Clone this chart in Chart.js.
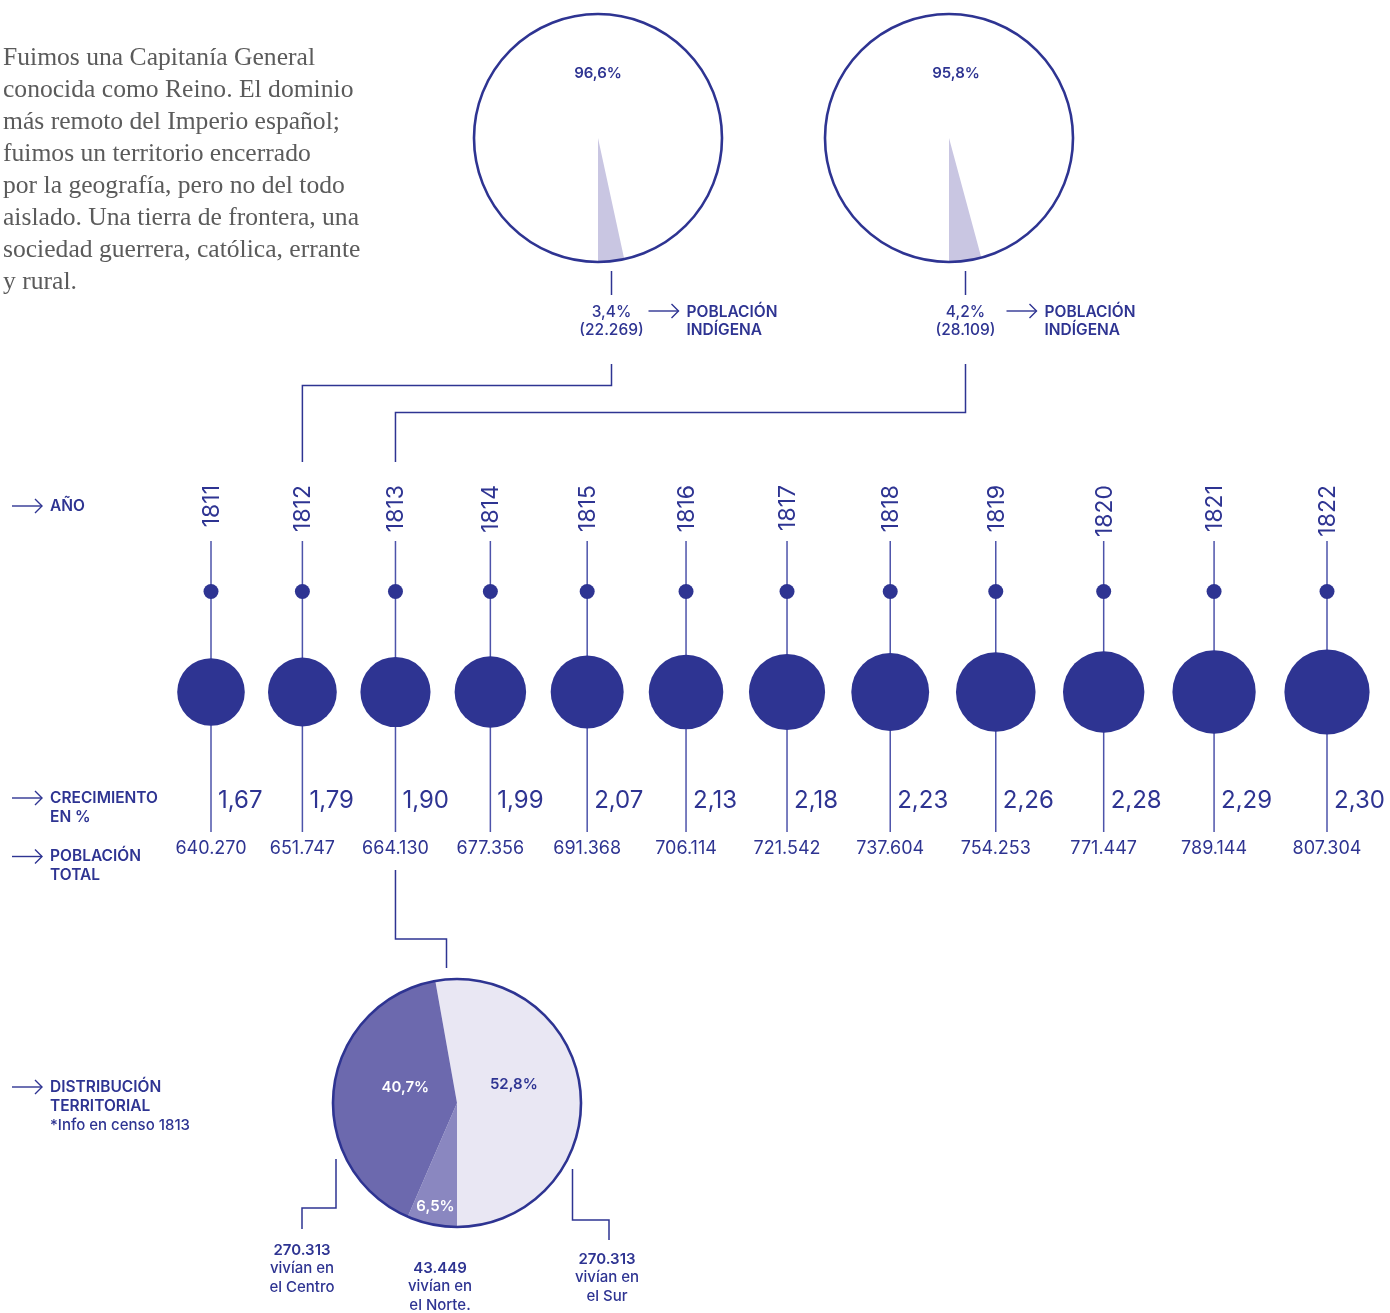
<!DOCTYPE html>
<html lang="es">
<head>
<meta charset="utf-8">
<title>Población 1811–1822</title>
<script src="https://cdn.jsdelivr.net/npm/chart.js@4.4.1/dist/chart.umd.min.js"></script>
<style>
  html, body { margin:0; padding:0; background:#ffffff; }
  #stage { position:relative; width:1390px; height:1313px; overflow:hidden; }
  #stage canvas { position:absolute; }
  #intro { position:absolute; left:3px; top:41px; margin:0; font-family:"Liberation Serif","DejaVu Serif",serif;
           font-size:25.6px; line-height:32px; color:#5b5b5b; white-space:nowrap; }
</style>
</head>
<body>
<div id="stage">
  <canvas id="timeline" width="1390" height="1313" style="left:0;top:0"></canvas>
  <canvas id="pie1812" width="400" height="345" style="left:468px;top:8px"></canvas>
  <canvas id="pie1813" width="400" height="345" style="left:819px;top:8px"></canvas>
  <canvas id="pieRegions" width="260" height="260" style="left:327px;top:973px"></canvas>
  <p id="intro">Fuimos una Capitanía General<br>conocida como Reino. El dominio<br>más remoto del Imperio español;<br>fuimos un territorio encerrado<br>por la geografía, pero no del todo<br>aislado. Una tierra de frontera, una<br>sociedad guerrera, católica, errante<br>y rural.</p>
</div>
<script>
// ---------------- DATA ----------------
const years = [1811, 1812, 1813, 1814, 1815, 1816, 1817, 1818, 1819, 1820, 1821, 1822];
const growthPct = [1.67, 1.79, 1.90, 1.99, 2.07, 2.13, 2.18, 2.23, 2.26, 2.28, 2.29, 2.30];
const totalPopulation = [640270, 651747, 664130, 677356, 691368, 706114, 721542, 737604, 754253, 771447, 789144, 807304];

const indigenousYears = [1812, 1813];
const nonIndigenousPct = [96.6, 95.8];
const indigenousPct = [3.4, 4.2];
const indigenousCount = [22269, 28109];

const regionNames = ['Sur', 'Norte', 'Centro'];
const regionPct = [52.8, 6.5, 40.7];
const regionCount = [270313, 43449, 270313];
const regionCaption = ['el Sur', 'el Norte.', 'el Centro'];

const rowLabels = ['AÑO', 'CRECIMIENTO\nEN %', 'POBLACIÓN\nTOTAL', 'DISTRIBUCIÓN\nTERRITORIAL\n*Info en censo 1813'];

// ---------------- STYLE ----------------
const INK = '#2e3492';
const STEM = '#4d53aa';
const FONT = 'Inter, "Open Sans", Roboto, sans-serif';
const POP_PER_RADIUS_PX = 18950;
const fmtInt = n => String(n).replace(/\B(?=(\d{3})+(?!\d))/g, '.');
const fmtDec = (v, d) => v.toFixed(d).replace('.', ',');

Chart.defaults.font.family = FONT;
const stubPage = {};

function line(ctx, pts) {
  ctx.beginPath();
  ctx.moveTo(pts[0][0], pts[0][1]);
  for (let i = 1; i < pts.length; i++) ctx.lineTo(pts[i][0], pts[i][1]);
  ctx.stroke();
}
function arrow(ctx, x0, x1, y) {
  ctx.save();
  ctx.strokeStyle = INK; ctx.lineWidth = 1.4; ctx.lineJoin = 'miter';
  line(ctx, [[x0, y], [x1, y]]);
  line(ctx, [[x1 - 7, y - 7], [x1, y], [x1 - 7, y + 7]]);
  ctx.restore();
}
function outline(ctx, el) {
  ctx.beginPath();
  ctx.arc(el.x, el.y, el.outerRadius, 0, Math.PI * 2);
  ctx.lineWidth = 2.6; ctx.strokeStyle = INK; ctx.stroke();
}

// ---------------- INDIGENOUS PIES ----------------
const indigenousDecor = {
  id: 'indigenousDecor',
  afterDatasetsDraw(chart) {
    const ctx = chart.ctx;
    const i = chart.options.plugins.indigenousDecor.index;
    const arcs = chart.getDatasetMeta(0).data;
    const cx = arcs[0].x, cy = arcs[0].y, R = arcs[0].outerRadius;
    ctx.save();
    outline(ctx, arcs[0]);
    ctx.fillStyle = INK; ctx.textAlign = 'center'; ctx.textBaseline = 'middle';
    ctx.font = '600 15px ' + FONT;
    ctx.fillText(fmtDec(nonIndigenousPct[i], 1) + '%', cx + (i === 1 ? 7 : 0), cy - 65);
    const mid = (arcs[1].startAngle + arcs[1].endAngle) / 2;
    const sx = Math.round(cx + Math.cos(mid) * R) + 0.5;
    ctx.strokeStyle = INK; ctx.lineWidth = 1.5;
    line(ctx, [[sx, cy + 133], [sx, cy + 157]]);
    ctx.font = '500 15.5px ' + FONT;
    ctx.fillText(fmtDec(indigenousPct[i], 1) + '%', sx, cy + 174);
    ctx.fillText('(' + fmtInt(indigenousCount[i]) + ')', sx, cy + 192);
    const gap = i === 1 ? 4 : 0;
    arrow(ctx, sx + 37 + gap, sx + 67 + gap, cy + 173);
    ctx.textAlign = 'left';
    ctx.font = '600 15.5px ' + FONT;
    ctx.fillText('POBLACIÓN', sx + 75 + gap, cy + 174);
    ctx.fillText('INDÍGENA', sx + 75 + gap, cy + 192);
    ctx.restore();
    stubPage[indigenousYears[i]] = chart.canvas.offsetLeft + sx;
  }
};

function makeIndigenousPie(id, i) {
  return new Chart(document.getElementById(id), {
    type: 'pie',
    data: {
      labels: ['No indígena', 'Indígena'],
      datasets: [{ data: [nonIndigenousPct[i], indigenousPct[i]],
                   backgroundColor: ['#ffffff', '#c9c6e2'], borderWidth: 0 }]
    },
    options: {
      responsive: false, animation: false, events: [],
      rotation: 180, radius: 124,
      layout: { autoPadding: false, padding: { left: 0, top: 0, right: 140, bottom: 85 } },
      plugins: { legend: { display: false }, tooltip: { enabled: false }, indigenousDecor: { index: i } }
    },
    plugins: [indigenousDecor]
  });
}
makeIndigenousPie('pie1812', 0);
makeIndigenousPie('pie1813', 1);

// ---------------- REGION PIE (1813) ----------------
const regionLabelRadius = [0.46, 0.855, 0.42];
const regionLabelDy = [-14, 0, -9];
const regionLabelColor = [INK, '#ffffff', '#ffffff'];
const regionDecor = {
  id: 'regionDecor',
  afterDatasetsDraw(chart) {
    const ctx = chart.ctx;
    const arcs = chart.getDatasetMeta(0).data;
    ctx.save();
    outline(ctx, arcs[0]);
    ctx.textAlign = 'center'; ctx.textBaseline = 'middle';
    ctx.font = '600 15px ' + FONT;
    arcs.forEach((a, k) => {
      const mid = (a.startAngle + a.endAngle) / 2;
      const r = a.outerRadius * regionLabelRadius[k];
      ctx.fillStyle = regionLabelColor[k];
      ctx.fillText(fmtDec(regionPct[k], 1) + '%', a.x + Math.cos(mid) * r, a.y + Math.sin(mid) * r + regionLabelDy[k]);
    });
    ctx.restore();
  }
};
new Chart(document.getElementById('pieRegions'), {
  type: 'pie',
  data: {
    labels: regionNames,
    datasets: [{ data: regionPct, backgroundColor: ['#e9e7f3', '#8a87c0', '#6c69ae'], borderWidth: 0 }]
  },
  options: {
    responsive: false, animation: false, events: [],
    rotation: 180 - regionPct[0] * 3.6, radius: 124,
    layout: { autoPadding: false },
    plugins: { legend: { display: false }, tooltip: { enabled: false } }
  },
  plugins: [regionDecor]
});

// ---------------- TIMELINE (bubble chart) ----------------
// bubbles are packed along the axis in proportion to their size
const layoutX = [0];
for (let i = 1; i < totalPopulation.length; i++) layoutX.push(layoutX[i - 1] + (totalPopulation[i - 1] + totalPopulation[i]) / 2);
const span = layoutX[layoutX.length - 1];
const pxPerUnit = (1327 - 211) / span;
const X_MIN = -211 / pxPerUnit, X_MAX = X_MIN + 1390 / pxPerUnit;
const ROW_DOT = 0, ROW_BUBBLE = 1;
const Y_MIN = -591.5 / 100.5, Y_MAX = Y_MIN + 1313 / 100.5;

const timelineDecor = {
  id: 'timelineDecor',
  beforeDatasetsDraw(chart) {
    const ctx = chart.ctx;
    ctx.save();
    ctx.strokeStyle = STEM; ctx.lineWidth = 1.5;
    chart.getDatasetMeta(1).data.forEach(el => line(ctx, [[el.x, 541], [el.x, 832]]));
    ctx.restore();
  },
  afterDatasetsDraw(chart) {
    const ctx = chart.ctx;
    const els = chart.getDatasetMeta(1).data;
    ctx.save();
    ctx.fillStyle = INK;
    els.forEach((el, i) => {
      // year
      ctx.save();
      ctx.translate(el.x, 485);
      ctx.rotate(-Math.PI / 2);
      ctx.textAlign = 'right'; ctx.textBaseline = 'middle';
      ctx.font = '400 23px ' + FONT;
      ctx.fillText(String(years[i]), 0, 1);
      ctx.restore();
      // growth
      ctx.textAlign = 'left'; ctx.textBaseline = 'alphabetic';
      ctx.font = '400 24px ' + FONT;
      ctx.fillText(fmtDec(growthPct[i], 2), el.x + 7, 808);
      // population
      ctx.textAlign = 'center'; ctx.textBaseline = 'middle';
      ctx.font = '400 18px ' + FONT;
      ctx.fillText(fmtInt(totalPopulation[i]), el.x, 849);
    });

    // row labels with arrows
    const rowY = [506, 798, 856.5, 1087];
    rowLabels.forEach((txt, r) => {
      arrow(ctx, 12, 42, rowY[r]);
      ctx.fillStyle = INK; ctx.textAlign = 'left'; ctx.textBaseline = 'middle';
      txt.split('\n').forEach((s, j) => {
        ctx.font = (s.startsWith('*') ? '500 15px ' : '600 15.5px ') + FONT;
        ctx.fillText(s, 50, rowY[r] + j * 19);
      });
    });

    // connectors
    const x1812 = els[years.indexOf(1812)].x, x1813 = els[years.indexOf(1813)].x;
    ctx.strokeStyle = INK; ctx.lineWidth = 1.5; ctx.lineJoin = 'miter';
    const s12 = stubPage[1812] || 613, s13 = stubPage[1813] || 963;
    line(ctx, [[s12, 364], [s12, 385.5], [x1812, 385.5], [x1812, 462]]);
    line(ctx, [[s13, 364], [s13, 412.5], [x1813, 412.5], [x1813, 462]]);
    line(ctx, [[x1813, 870], [x1813, 939], [446.5, 939], [446.5, 968]]);
    line(ctx, [[336, 1159], [336, 1208], [302, 1208], [302, 1229]]);
    line(ctx, [[572.5, 1169], [572.5, 1220], [609, 1220], [609, 1240]]);

    // region callouts
    const callX = [607, 440, 302], callY = [1259, 1268, 1250];
    ctx.fillStyle = INK; ctx.textAlign = 'center'; ctx.textBaseline = 'middle';
    regionNames.forEach((n, k) => {
      ctx.font = '600 15px ' + FONT;
      ctx.fillText(fmtInt(regionCount[k]), callX[k], callY[k]);
      ctx.font = '500 15px ' + FONT;
      ctx.fillText('vivían en', callX[k], callY[k] + 18.5);
      ctx.fillText(regionCaption[k], callX[k], callY[k] + 37);
    });
    ctx.restore();
  }
};

new Chart(document.getElementById('timeline'), {
  type: 'bubble',
  data: {
    datasets: [
      { label: 'Año', data: years.map((y, i) => ({ x: layoutX[i], y: ROW_DOT })),
        backgroundColor: INK, borderWidth: 0, radius: 7.5, hoverRadius: 0 },
      { label: 'Población total', data: years.map((y, i) => ({ x: layoutX[i], y: ROW_BUBBLE })),
        backgroundColor: INK, borderWidth: 0, hoverRadius: 0,
        radius: ctx => totalPopulation[ctx.dataIndex] / POP_PER_RADIUS_PX }
    ]
  },
  options: {
    responsive: false, animation: false, events: [],
    layout: { autoPadding: false, padding: 0 },
    plugins: { legend: { display: false }, tooltip: { enabled: false } },
    scales: {
      x: { type: 'linear', display: false, min: X_MIN, max: X_MAX },
      y: { type: 'linear', display: false, reverse: true, min: Y_MIN, max: Y_MAX }
    }
  },
  plugins: [timelineDecor]
});
</script>
</body>
</html>
